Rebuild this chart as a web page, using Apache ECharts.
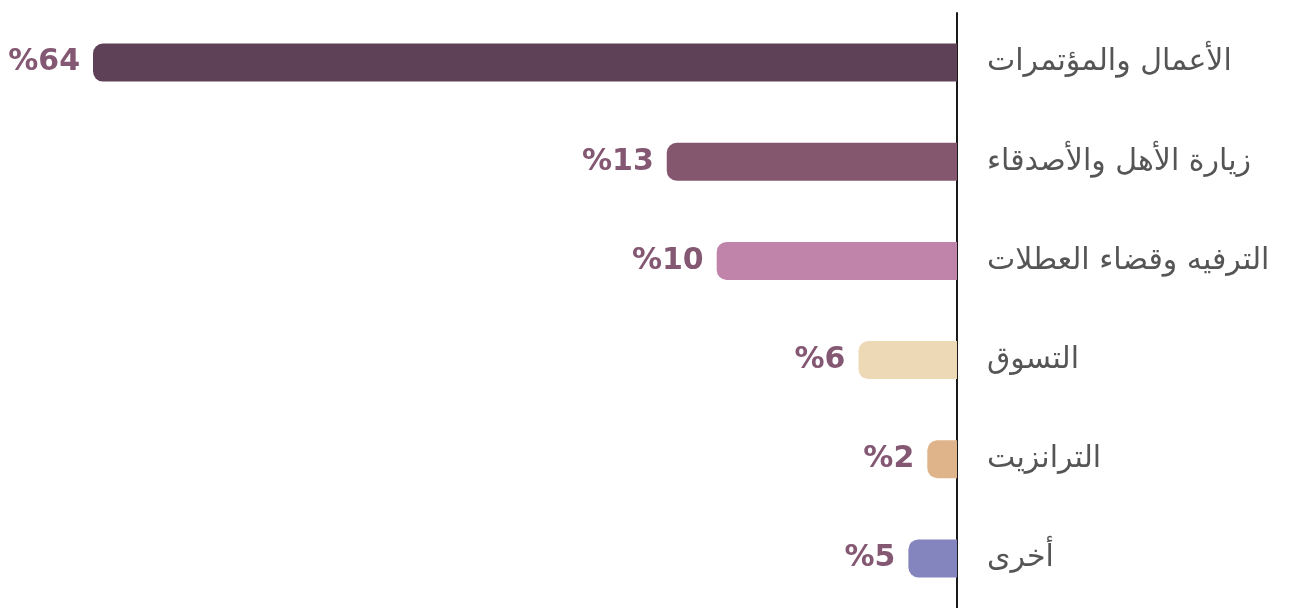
<!DOCTYPE html>
<html>
<head>
<meta charset="utf-8">
<script src="https://cdn.jsdelivr.net/npm/echarts@6/dist/echarts.min.js"></script>
<style>
html,body{margin:0;padding:0;background:#fff;}
#chart{width:1298px;height:608px;}
</style>
</head>
<body>
<div id="chart"></div>
<script>
// Categories (top to bottom)
const categories = ['الأعمال والمؤتمرات','زيارة الأهل والأصدقاء','الترفيه وقضاء العطلات','التسوق','الترانزيت','أخرى'];
// Printed percentage labels
const percentLabels = [64, 13, 10, 6, 2, 5];
// Bar extents as drawn in the picture (axis units, full axis = 64)
const barExtents = [64, 21.5, 17.8, 7.3, 2.2, 3.6];
// Bar colours
const barColors = ['#5F4157','#84576F','#C083A9','#EDD9B5','#E0B48A','#8484BF'];

const chart = echarts.init(document.getElementById('chart'));
chart.setOption({
  animation:false,
  backgroundColor:'#ffffff',
  grid:{left:93, right:341, top:13, bottom:-5, containLabel:false},
  xAxis:{type:'value', inverse:true, min:0, max:64, show:false},
  yAxis:{
    type:'category', data:categories, inverse:true, position:'right',
    axisLine:{show:true, lineStyle:{color:'#1a1a1a', width:2}},
    axisTick:{show:false},
    axisLabel:{margin:30, color:'#555555', fontSize:30, fontFamily:'DejaVu Sans', align:'left'}
  },
  series:[{
    type:'bar',
    barWidth:38,
    data:barExtents.map((v,i)=>({value:v, itemStyle:{color:barColors[i]}})),
    itemStyle:{borderRadius:[10,0,0,10]},
    label:{
      show:true, position:'left', distance:13,
      color:'#845872', fontSize:30, fontWeight:'bold', fontFamily:'DejaVu Sans',
      formatter:p=>'%'+percentLabels[p.dataIndex]
    }
  }]
});
</script>
</body>
</html>
